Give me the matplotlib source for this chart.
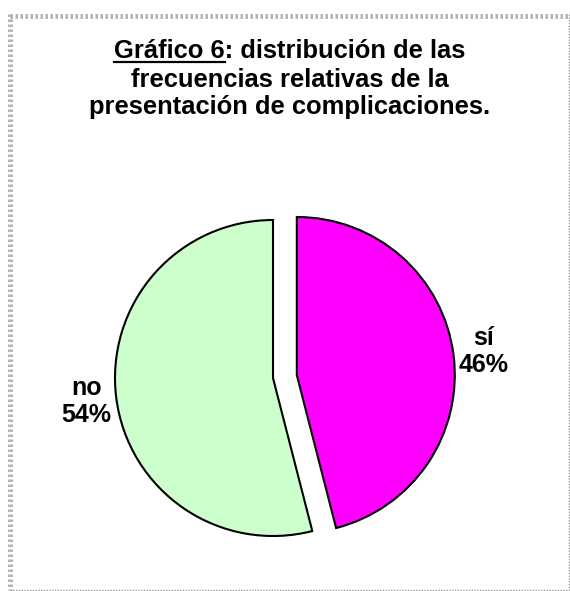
import matplotlib.pyplot as plt
from matplotlib.lines import Line2D

categories = ["sí", "no"]
values = [46, 54]
colors = ["#FF00FF", "#CCFFCC"]
title_lines = ["Gráfico 6: distribución de las",
               "frecuencias relativas de la",
               "presentación de complicaciones."]
underlined = "Gráfico 6"

W, H = 570, 591
plt.rcParams['font.family'] = ['Liberation Sans', 'DejaVu Sans']

fig = plt.figure(figsize=(W / 100, H / 100), dpi=100)
ax = fig.add_axes([0, 0, 1, 1])

total = sum(values)
labels = [f"{c}\n{round(v * 100 / total)}%" for c, v in zip(categories, values)]

# explode is in data units (= pixels here)
wedges, texts = ax.pie(values, colors=colors, labels=labels, startangle=90,
                       counterclock=False, explode=[24, 0],
                       center=(273, H - 378), radius=158, labeldistance=1.19,
                       wedgeprops=dict(edgecolor='black', linewidth=1.5),
                       textprops=dict(fontsize=18, fontweight='bold'), frame=True)
ax.axis('off')
ax.set_xlim(0, W)
ax.set_ylim(0, H)
for t in texts:
    t.set_ha('center')
    t.set_va('center')
    t.set_linespacing(1.2)

# title
fs = 18.4
ys = [58, 87, 114]
tx = []
for line, y in zip(title_lines, ys):
    tx.append(fig.text(290 / W, 1 - y / H, line, ha='center', va='baseline',
                       fontsize=fs, fontweight='bold'))

fig.canvas.draw()
r = fig.canvas.get_renderer()
bb = tx[0].get_window_extent(r)
probe = fig.text(0, 0, underlined, fontsize=fs, fontweight='bold')
pw = probe.get_window_extent(r).width
probe.remove()
uy = H - 62
fig.add_artist(Line2D([bb.x0 / W, (bb.x0 + pw) / W], [uy / H, uy / H],
                      transform=fig.transFigure, color='black', lw=1.6))

# frame
g = '#b4b4b4'
fig.add_artist(Line2D([9.5 / W, 569 / W], [1 - 16 / H, 1 - 16 / H], transform=fig.transFigure,
                      color=g, lw=3.6, ls=(0, (0.5, 0.5))))
fig.add_artist(Line2D([9.5 / W, 9.5 / W], [1 - 14 / H, 1 - 590 / H], transform=fig.transFigure,
                      color=g, lw=3.6, ls=(0, (0.5, 0.5))))
fig.add_artist(Line2D([568.5 / W, 568.5 / W], [1 - 14 / H, 1 - 590 / H], transform=fig.transFigure,
                      color='#999999', lw=1, ls=(0, (1, 1))))
fig.add_artist(Line2D([9.5 / W, 569 / W], [1 - 589.5 / H, 1 - 589.5 / H], transform=fig.transFigure,
                      color='#999999', lw=1, ls=(0, (1, 1))))

fig.savefig('out.png', dpi=100)
